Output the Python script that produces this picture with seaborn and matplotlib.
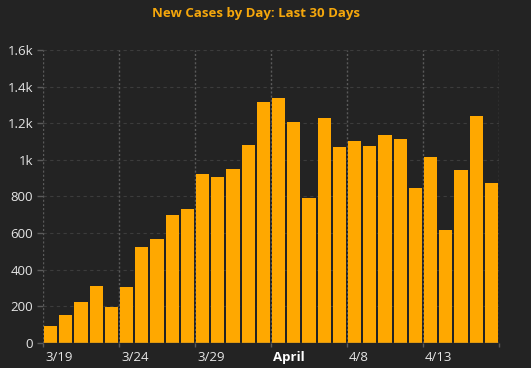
import pandas as pd
import matplotlib
matplotlib.use("Agg")
import matplotlib.pyplot as plt
import matplotlib.transforms as mtransforms
import seaborn as sns

dias = pd.date_range("2020-03-19", periods=30, freq="D").strftime("%m/%d").tolist()
casos = [93, 151, 222, 310, 195, 304, 523, 567, 698, 731,
         922, 906, 949, 1081, 1316, 1338, 1206, 791, 1228, 1070,
         1103, 1075, 1135, 1113, 846, 1015, 616, 944, 1239, 873]
etiquetas_x = ["3/19", "3/24", "3/29", "April", "4/8", "4/13"]
etiquetas_y = ["0", "200", "400", "600", "800", "1k", "1.2k", "1.4k", "1.6k"]

fondo = "#232323"
naranja = "#ffa800"

sns.set_style("dark")
plt.rcParams["font.family"] = ["Open Sans", "DejaVu Sans"]

tabla = pd.DataFrame({"dia": dias, "casos": casos})

fig = plt.figure(figsize=(5.31, 3.68), dpi=100, facecolor=fondo)
ax = fig.add_axes([43 / 531, 1 - 342.7 / 368, 456 / 531, 292.7 / 368])
ax.set_facecolor(fondo)

sns.barplot(data=tabla, x="dia", y="casos", color=naranja, saturation=1,
            width=0.86, edgecolor="none", linewidth=0, ax=ax)

ax.set_xlim(-0.5, 29.5)
ax.set_ylim(0, 1600)

# grid horizontal
for v in range(200, 1601, 200):
    ax.axhline(v, color="#3c3c3c", lw=0.8, ls=(0, (3, 3)), zorder=0)
# grid vertical
for p in range(0, 31, 5):
    ax.axvline(p - 0.5, color="#5a5a5a", lw=1.0, ls=(0, (1.5, 1.5)), zorder=0.5)

for s in ax.spines.values():
    s.set_visible(False)
ax.axhline(0, color="#5a5a5a", lw=1.0, zorder=3)

ax.set_yticks(range(0, 1601, 200))
ax.set_yticklabels(etiquetas_y)
ax.set_xticks([p - 0.5 for p in range(0, 30, 5)] + [29.5])
ax.set_xticklabels(etiquetas_x + [""])
ax.tick_params(axis="y", colors="#5a5a5a", labelcolor="#e6e6e6", labelsize=9.5,
               length=4, width=1, pad=3, left=True)
ax.tick_params(axis="x", colors="#5a5a5a", labelcolor="#e6e6e6", labelsize=9.5,
               length=3, width=1, pad=3, bottom=True)

desplaza = mtransforms.ScaledTranslation(2 / 100, 0, fig.dpi_scale_trans)
for lab in ax.get_xticklabels():
    lab.set_horizontalalignment("left")
    lab.set_transform(lab.get_transform() + desplaza)
    if lab.get_text() == "April":
        lab.set_fontweight("bold")
        lab.set_color("white")

ax.set_xlabel("")
ax.set_ylabel("")
ax.grid(False)

fig.text(256 / 531, 1 - 14 / 368, "New Cases by Day: Last 30 Days", color="#f5a70c",
         fontsize=9.5, fontweight="bold", ha="center", va="center")

fig.savefig("out.png", dpi=100, facecolor=fondo)
